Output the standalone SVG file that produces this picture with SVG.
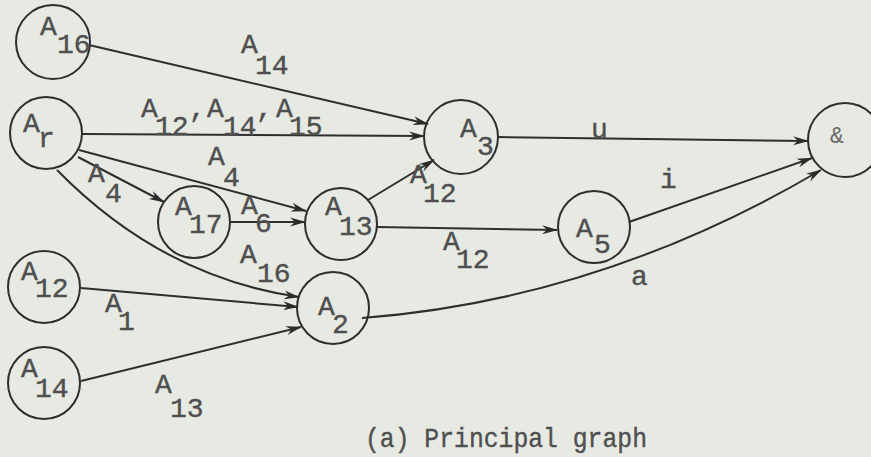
<svg xmlns="http://www.w3.org/2000/svg" width="871" height="457" viewBox="0 0 871 457">
<defs>
<marker id="arr" viewBox="0 0 16 10" refX="15" refY="5" markerWidth="16" markerHeight="10" markerUnits="userSpaceOnUse" orient="auto">
<path d="M0,0.5 L16,5 L0,9.5 L5,5 z" fill="#2b2b2b"/>
</marker>
<style>
.n{fill:none;stroke:#2e2e2e;stroke-width:2}
.e{fill:none;stroke:#2e2e2e;stroke-width:2;marker-end:url(#arr)}
text{font-family:"Liberation Mono","DejaVu Sans Mono",monospace;font-size:28px;fill:#4f4f4f;stroke:#4f4f4f;stroke-width:0.4}
</style>
</defs>
<rect width="871" height="457" fill="#e7e9e3"/>
<g id="connectors">
<line class="e" x1="89" y1="45" x2="428" y2="124"/>
<line class="e" x1="82" y1="134" x2="424" y2="136"/>
<line class="e" x1="79" y1="150" x2="306" y2="211"/>
<line class="e" x1="78" y1="157" x2="164" y2="202"/>
<path class="e" d="M57,170 Q162,277 299,297"/>
<line class="e" x1="230" y1="222" x2="305" y2="222"/>
<line class="e" x1="81" y1="288" x2="298" y2="307"/>
<line class="e" x1="81" y1="381" x2="301" y2="327"/>
<line class="e" x1="368" y1="200" x2="434" y2="160"/>
<line class="e" x1="377" y1="227" x2="557" y2="230"/>
<line class="e" x1="498" y1="137" x2="808" y2="141"/>
<line class="e" x1="629" y1="222" x2="812" y2="158"/>
<path class="e" d="M362,318 Q600,300 821,170"/>
<g id="edge-labels">
<text x="241" y="53">A</text><text x="255" y="74">14</text>
<text x="141" y="117">A</text><text x="155" y="135">12</text><text x="189" y="117">,</text>
<text x="207" y="117">A</text><text x="223" y="135">14</text><text x="256" y="117">,</text>
<text x="276" y="117">A</text><text x="289" y="135">15</text>
<text x="208" y="165">A</text><text x="223" y="186">4</text>
<text x="88" y="182">A</text><text x="105" y="202">4</text>
<text x="241" y="214">A</text><text x="255" y="232">6</text>
<text x="240" y="263">A</text><text x="257" y="282">16</text>
<text x="105" y="312">A</text><text x="118" y="330">1</text>
<text x="155" y="393">A</text><text x="170" y="417">13</text>
<text x="410" y="183">A</text><text x="423" y="202">12</text>
<text x="443" y="250">A</text><text x="456" y="268">12</text>
<text x="591" y="138">u</text>
<text x="660" y="188">i</text>
<text x="631" y="285">a</text>
</g>
</g>
<g id="A16"><circle class="n" cx="53" cy="42" r="37"/><text x="40" y="35">A</text><text x="57" y="53">16</text></g>
<g id="Ar"><circle class="n" cx="46" cy="133" r="36"/><text x="23" y="132">A</text><text x="38" y="147">r</text></g>
<g id="A17"><circle class="n" cx="194" cy="222" r="36"/><text x="175" y="215">A</text><text x="189" y="233">17</text></g>
<g id="A12"><circle class="n" cx="44" cy="287" r="36"/><text x="21" y="280">A</text><text x="35" y="297">12</text></g>
<g id="A14"><circle class="n" cx="44" cy="383" r="36"/><text x="21" y="377">A</text><text x="35" y="397">14</text></g>
<g id="A3"><circle class="n" cx="461" cy="137" r="37"/><text x="460" y="137">A</text><text x="477" y="155">3</text></g>
<g id="A13"><circle class="n" cx="341" cy="224" r="36"/><text x="325" y="215">A</text><text x="339" y="235">13</text></g>
<g id="A5"><circle class="n" cx="594" cy="227" r="36"/><text x="576" y="237">A</text><text x="594" y="253">5</text></g>
<g id="A2"><circle class="n" cx="333" cy="308" r="36"/><text x="318" y="315">A</text><text x="332" y="333">2</text></g>
<g id="AND"><circle class="n" cx="845" cy="140" r="37"/><text x="830" y="143" style="font-size:23px;fill:#6a6a6a;stroke:none">&amp;</text></g>
<text id="caption" x="365" y="447" textLength="282" lengthAdjust="spacingAndGlyphs">(a) Principal graph</text>
</svg>
